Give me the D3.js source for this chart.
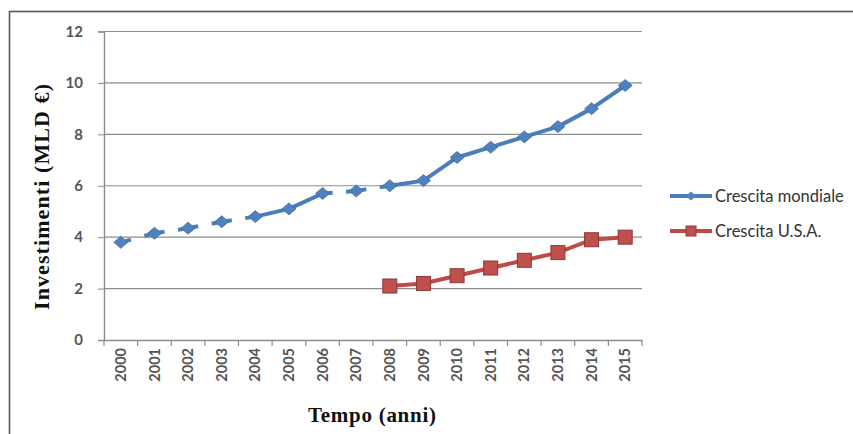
<!DOCTYPE html>
<html><head><meta charset="utf-8">
<script src="https://cdn.jsdelivr.net/npm/d3@7/dist/d3.min.js"></script>
<style>body{margin:0;background:#fff}svg{display:block}</style>
</head><body><svg id="c" width="853" height="434"></svg>
<script>
const years = ["2000","2001","2002","2003","2004","2005","2006","2007","2008","2009","2010","2011","2012","2013","2014","2015"];
const mondiale = [3.8,4.15,4.35,4.6,4.8,5.1,5.7,5.8,6.0,6.2,7.1,7.5,7.9,8.3,9.0,9.9];
const usaYears = ["2008","2009","2010","2011","2012","2013","2014","2015"];
const usa = [2.1,2.2,2.5,2.8,3.1,3.4,3.9,4.0];
const yTicks = [0,2,4,6,8,10,12];
// segments of the world series that appear broken in the scanned original
const brokenAfter = ["2000","2001","2002","2003","2006","2007"];

const svg = d3.select("#c");
const L = 104, R = 642, T = 31.5, B = 340;
const x = d3.scaleBand().domain(years).range([L, R]);
const y = d3.scaleLinear().domain([0, 12]).range([B, T]);
const cx = d => x(d) + x.bandwidth() / 2;
const sans = "Lato, 'Open Sans', sans-serif";

svg.append("rect").attr("x", 9.5).attr("y", 11.5).attr("width", 860).attr("height", 440)
  .attr("fill", "#fff").attr("stroke", "#555").attr("stroke-width", 1.6);

// grid
svg.append("g").selectAll("line").data(yTicks.filter(d => d > 0)).join("line")
  .attr("x1", L).attr("x2", R).attr("y1", d => y(d)).attr("y2", d => y(d))
  .attr("stroke", "#8c8c8c").attr("stroke-width", 1.2);

// y axis
const yAx = svg.append("g").attr("transform", `translate(${L},0)`)
  .call(d3.axisLeft(y).tickValues(yTicks).tickSize(6).tickPadding(15));
yAx.select(".domain").attr("stroke", "#8c8c8c").attr("stroke-width", 1.4);
yAx.selectAll(".tick line").attr("stroke", "#8c8c8c");
yAx.selectAll("text").attr("font-family", sans).attr("font-weight", "bold")
  .attr("font-size", 15).attr("fill", "#555");

// x axis
const xAx = svg.append("g").attr("transform", `translate(0,${B})`)
  .call(d3.axisBottom(x).tickSize(0).tickPadding(8));
xAx.select(".domain").attr("stroke", "#8c8c8c").attr("stroke-width", 1.4);
xAx.selectAll("text").attr("font-family", sans).attr("font-weight", "bold")
  .attr("font-size", 14.5).attr("fill", "#555")
  .attr("transform", "rotate(-90)").attr("text-anchor", "end")
  .attr("x", -8).attr("y", 0).attr("dy", "0.35em");
const bounds = years.map(d => x(d)).concat([R]);
svg.append("g").selectAll("line").data(bounds).join("line")
  .attr("x1", d => d).attr("x2", d => d).attr("y1", B).attr("y2", B + 6)
  .attr("stroke", "#8c8c8c").attr("stroke-width", 1.2);

// blue series
const blue = "#4a7ebb", blueM = "#4f81bd";
const gB = svg.append("g");
for (let i = 0; i < years.length - 1; i++) {
  const x1 = cx(years[i]), y1 = y(mondiale[i]), x2 = cx(years[i + 1]), y2 = y(mondiale[i + 1]);
  if (brokenAfter.includes(years[i])) {
    const f = 0.3;
    gB.append("line").attr("x1", x1).attr("y1", y1).attr("x2", x1 + (x2 - x1) * f).attr("y2", y1 + (y2 - y1) * f)
      .attr("stroke", blue).attr("stroke-width", 4);
    gB.append("line").attr("x1", x2).attr("y1", y2).attr("x2", x2 - (x2 - x1) * f).attr("y2", y2 - (y2 - y1) * f)
      .attr("stroke", blue).attr("stroke-width", 4);
  } else {
    gB.append("line").attr("x1", x1).attr("y1", y1).attr("x2", x2).attr("y2", y2)
      .attr("stroke", blue).attr("stroke-width", 4);
  }
}
const diamond = "M-7,0L0,-6L7,0L0,6Z";
gB.selectAll("path").data(mondiale).join("path")
  .attr("d", diamond).attr("transform", (d, i) => `translate(${cx(years[i])},${y(d)})`)
  .attr("fill", blueM).attr("stroke", "#3f6fa8").attr("stroke-width", 0.8);

// red series
const red = "#be4b48", redM = "#c0504d";
const gR = svg.append("g");
gR.append("path").datum(usa)
  .attr("d", d3.line().x((d, i) => cx(usaYears[i])).y(d => y(d)))
  .attr("fill", "none").attr("stroke", red).attr("stroke-width", 4);
gR.selectAll("rect").data(usa).join("rect")
  .attr("x", (d, i) => cx(usaYears[i]) - 7).attr("y", d => y(d) - 7)
  .attr("width", 14).attr("height", 14)
  .attr("fill", redM).attr("stroke", "#8c3836").attr("stroke-width", 1);

// axis titles
svg.append("text").attr("transform", "translate(49,197) rotate(-90)")
  .attr("text-anchor", "middle").attr("font-family", "'Liberation Serif', serif")
  .attr("font-weight", "bold").attr("font-size", 22).attr("fill", "#111")
  .attr("textLength", 226).attr("lengthAdjust", "spacing")
  .text("Investimenti (MLD €)");
svg.append("text").attr("x", 372).attr("y", 422)
  .attr("text-anchor", "middle").attr("font-family", "'Liberation Serif', serif")
  .attr("font-weight", "bold").attr("font-size", 21).attr("fill", "#111")
  .attr("textLength", 128).attr("lengthAdjust", "spacing")
  .text("Tempo (anni)");

// legend
const legend = [
  {name: "Crescita mondiale", color: blue, mk: blueM, shape: "d"},
  {name: "Crescita U.S.A.", color: red, mk: redM, shape: "s"}
];
const lg = svg.append("g").selectAll("g").data(legend).join("g")
  .attr("transform", (d, i) => `translate(670,${196 + i * 35})`);
lg.append("line").attr("x1", 0).attr("x2", 42).attr("stroke", d => d.color).attr("stroke-width", 4);
lg.filter(d => d.shape === "d").append("path").attr("d", "M-5,0L0,-4.5L5,0L0,4.5Z")
  .attr("transform", "translate(21,0)").attr("fill", d => d.mk);
lg.filter(d => d.shape === "s").append("rect").attr("x", 16).attr("y", -5).attr("width", 10).attr("height", 10)
  .attr("fill", d => d.mk).attr("stroke", "#8c3836");
lg.append("text").attr("x", 45).attr("dy", "0.35em")
  .attr("font-family", sans).attr("font-size", 16.5).attr("fill", "#333")
  .text(d => d.name);
</script></body></html>
